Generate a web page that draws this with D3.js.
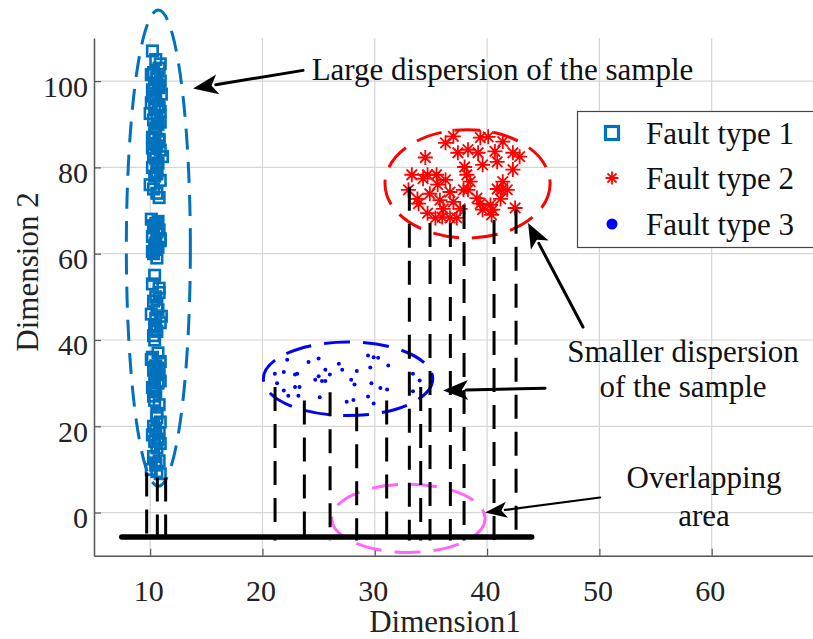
<!DOCTYPE html>
<html><head><meta charset="utf-8">
<script src="https://cdn.jsdelivr.net/npm/d3@7"></script>
<style>body{margin:0;background:#fff}svg{display:block}</style>
</head><body><svg id="c" width="813" height="639"></svg>
<script>
const xTicks = [10,20,30,40,50,60];
const yTicks = [0,20,40,60,80,100];
const xLabel = "Dimension1";
const yLabel = "Dimension 2";
const seriesNames = ["Fault type 1","Fault type 2","Fault type 3"];

const fault1X = [10.2,10.5,10.8,10.3,10.6,10.9,10.4,10.7,10.2,11.0,10.5,10.1,10.8,10.4,10.9,10.6,10.3,10.7,10.5,10.2,10.8,10.4,10.6,10.9,10.3,10.5,10.7,10.2,10.6,10.4,10.9,10.3,10.6,10.8,10.1,10.5,10.3,10.8,10.6,10.2,10.9,10.4,10.7,10.5,10.3,10.6,10.4,10.2,10.8,10.5,10.3,10.7,10.1,10.5,10.9,10.4,10.6,10.3,10.4,10.7,10.2,10.9,10.5,10.3,10.8,10.6,10.4,10.7,10.2,10.5,10.3,10.4,10.8,10.6,10.9,10.3,10.5,10.2,10.7,10.4,10.9,10.6,10.3,10.8,10.5,10.1,10.6,10.9,
  10.9,10.1,10.6,10.8,10.3,10.7,10.0,10.9,10.4,10.8,10.2,11.1,10.6,10.0,10.7,10.3,10.9,10.5,10.2,10.8,10.6,11.0,10.4,10.1,10.7,10.9,10.3,10.6,10.8,10.5];
const fault1Y = [107,105,103,102,101,100,99.5,99,98,97,96,95,94,93.5,93,92,91,90,89,87,86,85.5,85,84,83,82,81,80,79,78,77,75,74,73,68,67,66,65.5,65,64,63,62,61.5,61,60,59,55,53,51,50,49,47,46,45,44,43,42,41,40,37,36,35,34,33,32.5,32,31,30,29,28,27,26,25,22,21,20,19,18,17,16.5,16,15,13,12,11,10,9.5,9,
  104,101.5,100.5,98.5,96.5,94.5,92.5,90.5,88,86.5,84.5,82.5,78.5,76,67.5,66.5,63.5,62.5,60.5,52,48,45.5,43.5,35.5,33.5,30.5,28.5,23,18.5,11.5];

const fault2X = [37.0,36.3,37.4,38.3,39.2,39.4,40.1,41.4,40.7,42.3,42.9,34.5,39.6,40.9,42.3,33.3,34.3,35.5,36.3,38.2,38.5,37.9,36.7,35.6,34.9,33.0,33.8,33.9,37.0,36.1,37.6,39.4,40.3,40.9,41.4,41.8,41.2,40.5,39.6,34.7,35.4,36.0,36.7,37.3,40.4,42.5,35.8,34.7,38.0,38.3,39.1,41.3];
const fault2Y = [87.2,85.7,83.4,84.1,83.4,86.9,87.1,86.0,83.7,83.4,82.5,82.3,80.6,81.3,79.5,78.3,77.4,78.3,77.1,78.3,76.7,74.8,74.3,76.0,73.9,74.8,72.7,71.6,72.0,70.4,70.4,71.6,71.3,75.0,76.7,74.8,72.7,70.2,70.2,69.4,68.3,68.5,68.3,68.3,69.0,70.6,72.4,78.3,80.1,74.8,72.9,74.8];

const fault3X = [22.2,24.1,25.0,26.8,27.1,25.6,25.0,26.0,25.3,25.6,24.7,23.1,22.9,21.9,21.1,21.3,22.9,23.3,21.9,22.3,23.2,25.1,27.5,28.1,28.4,27.9,28.2,29.4,29.9,30.3,29.6,31.2,29.7,30.5,31.1,29.4,29.9,33.4,34.0,33.4];
const fault3Y = [35.4,34.9,35.7,34.5,33.1,33.1,31.6,32.0,30.5,30.5,30.8,32.2,32.0,32.6,32.2,30.0,29.1,29.1,28.3,27.1,27.1,26.7,25.7,26.1,32.8,30.8,29.7,36.4,36.0,35.9,33.6,34.1,30.0,28.9,28.5,26.9,25.3,32.2,30.6,28.1];

// projection lines: x, top y
const projX = [9.69,10.64,11.38,21.12,23.73,26.02,28.39,31.06,34.09,33.08,34.92,36.73,37.95,40.62,42.58];
const projTop = [9.3,8.1,8.1,29.1,26.0,27.9,24.4,26.0,29.1,75.5,67.1,67.1,71.3,67.8,70.2];
const projBottom = -6.5;
const baseLine = {x0:7.47, x1:43.97, y:-5.65};

// ellipses: cx, cy, rx, ry (data units)
const ellipseCx = [10.73,38.26,27.62,32.99];
const ellipseCy = [61.3,76.2,31.0,-1.35];
const ellipseRx = [2.85,7.35,7.54,6.83];
const ellipseRy = [55.2,12.56,8.53,7.9];
const ellipseColors = ["#0072BD","#FF0000","#0000FF","#FF66FF"];

// arrows: from (x0,y0) to tip (x1,y1)
const arrowX0 = [23.61,48.54,45.16,50.06];
const arrowY0 = [102.5,43.0,28.8,3.49];
const arrowX1 = [13.82,43.65,36.08,39.82];
const arrowY1 = [98.3,67.1,28.3,0.0];

const noteText = ["Large dispersion of the sample","Smaller dispersion","of the sample","Overlapping","area"];
const noteX = [24.38,57.45,57.45,59.32,59.32];
const noteY = [100.2,34.8,26.7,5.74,-3.1];
const noteAnchor = ["start","middle","middle","middle","middle"];

const svg = d3.select("#c");
const L=94, R=824, T=38, B=555.7;
const x = d3.scaleLinear().domain([5,70]).range([L,R]);
const y = d3.scaleLinear().domain([-10,110]).range([B,T]);
const font = "'Liberation Serif','Times New Roman',serif";

// grid
const g = svg.append("g");
g.selectAll(".gx").data(xTicks).join("line").attr("x1",d=>x(d)).attr("x2",d=>x(d)).attr("y1",T).attr("y2",B).attr("stroke","#d6d6d6").attr("stroke-width",1.2);
g.selectAll(".gy").data(yTicks).join("line").attr("y1",d=>y(d)).attr("y2",d=>y(d)).attr("x1",L).attr("x2",R).attr("stroke","#d6d6d6").attr("stroke-width",1.2);

// axes
const xAxis = d3.axisBottom(x).tickValues(xTicks).tickSizeInner(-7).tickSizeOuter(0).tickPadding(24);
const yAxis = d3.axisLeft(y).tickValues(yTicks).tickSizeInner(-7).tickSizeOuter(0).tickPadding(6);
const gx = svg.append("g").attr("transform",`translate(0,${B})`).call(xAxis);
const gy = svg.append("g").attr("transform",`translate(${L},0)`).call(yAxis);
[gx,gy].forEach(a=>{
  a.select(".domain").attr("stroke","#555").attr("stroke-width",1.5);
  a.selectAll(".tick line").attr("stroke","#555").attr("stroke-width",1.2);
  a.selectAll("text").attr("font-family",font).attr("font-size",30).attr("fill","#222");
});
gx.selectAll("text").attr("dy","0.72em").attr("dx",-2);
gy.selectAll("text").attr("dy","0.5em");

svg.append("text").attr("x",445).attr("y",632).attr("text-anchor","middle").attr("font-family",font).attr("font-size",31).attr("fill","#222").text(xLabel);
svg.append("text").attr("transform","translate(38,272) rotate(-90)").attr("text-anchor","middle").attr("font-family",font).attr("font-size",31).attr("fill","#222").text(yLabel);

// ellipses
const ell = d3.range(4);
svg.selectAll(".ell").data(ell).join("ellipse")
  .attr("cx",i=>x(ellipseCx[i])).attr("cy",i=>y(ellipseCy[i]))
  .attr("rx",i=>x(ellipseCx[i]+ellipseRx[i])-x(ellipseCx[i]))
  .attr("ry",i=>y(ellipseCy[i])-y(ellipseCy[i]+ellipseRy[i]))
  .attr("fill","none").attr("stroke",i=>ellipseColors[i]).attr("stroke-width",3)
  .attr("stroke-dasharray",i=>i===0?"21,12":"26,13");

// fault type 1 squares
const sq = 10.5;
svg.selectAll(".f1").data(fault1X.map((d,i)=>[d,fault1Y[i]])).join("rect")
  .attr("x",d=>x(d[0])-sq/2).attr("y",d=>y(d[1])-sq/2).attr("width",sq).attr("height",sq)
  .attr("fill","none").attr("stroke","#0072BD").attr("stroke-width",2.6);

// fault type 2 asterisks
const star = r => `M${-r},0L${r},0M0,${-r}L0,${r}M${-r*0.7},${-r*0.7}L${r*0.7},${r*0.7}M${-r*0.7},${r*0.7}L${r*0.7},${-r*0.7}`;
svg.selectAll(".f2").data(fault2X.map((d,i)=>[d,fault2Y[i]])).join("path")
  .attr("transform",d=>`translate(${x(d[0])},${y(d[1])})`).attr("d",star(7.5))
  .attr("fill","none").attr("stroke","#FF0000").attr("stroke-width",1.8);

// fault type 3 dots
svg.selectAll(".f3").data(fault3X.map((d,i)=>[d,fault3Y[i]])).join("circle")
  .attr("cx",d=>x(d[0])).attr("cy",d=>y(d[1])).attr("r",2).attr("fill","#0000FF");

// projection dashed lines
svg.selectAll(".pj").data(projX.map((d,i)=>[d,projTop[i]])).join("line")
  .attr("x1",d=>x(d[0])).attr("x2",d=>x(d[0])).attr("y1",d=>y(d[1])).attr("y2",y(projBottom))
  .attr("stroke","#000").attr("stroke-width",3).attr("stroke-dasharray","24,13");

svg.append("line").attr("x1",x(baseLine.x0)).attr("x2",x(baseLine.x1)).attr("y1",y(baseLine.y)).attr("y2",y(baseLine.y))
  .attr("stroke","#000").attr("stroke-width",5.5).attr("stroke-linecap","round");

// arrows
d3.range(4).forEach(i=>{
  const x0=x(arrowX0[i]), y0=y(arrowY0[i]), x1=x(arrowX1[i]), y1=y(arrowY1[i]);
  const ang=Math.atan2(y1-y0,x1-x0);
  const hl = i===3?22:25, hw = i===3?8:10;
  const bx=x1-hl*Math.cos(ang), by=y1-hl*Math.sin(ang);
  svg.append("line").attr("x1",x0).attr("y1",y0).attr("x2",bx+2*Math.cos(ang)).attr("y2",by+2*Math.sin(ang))
    .attr("stroke","#000").attr("stroke-width",i===3?2.2:3).attr("stroke-linecap","round");
  const px=-Math.sin(ang), py=Math.cos(ang);
  svg.append("path").attr("d",`M${x1},${y1}L${bx+hw*px},${by+hw*py}L${bx+0.25*hl*Math.cos(ang)},${by+0.25*hl*Math.sin(ang)}L${bx-hw*px},${by-hw*py}Z`).attr("fill","#000");
});

// notes
svg.selectAll(".note").data(noteText).join("text")
  .attr("x",(d,i)=>x(noteX[i])).attr("y",(d,i)=>y(noteY[i])).attr("text-anchor",(d,i)=>noteAnchor[i])
  .attr("font-family",font).attr("font-size",31).attr("fill","#111").text(d=>d);

// legend
const lg = svg.append("g");
lg.append("rect").attr("x",577.5).attr("y",111.5).attr("width",250).attr("height",136).attr("fill","#fff").attr("stroke","#444").attr("stroke-width",1.2);
const ly=[133,178,224];
lg.append("rect").attr("x",612-6.5).attr("y",ly[0]-6.5).attr("width",13).attr("height",13).attr("fill","none").attr("stroke","#0072BD").attr("stroke-width",3.2);
lg.append("path").attr("transform",`translate(612,${ly[1]})`).attr("d",star(6.5)).attr("stroke","#FF0000").attr("stroke-width",1.8).attr("fill","none");
lg.append("circle").attr("cx",612).attr("cy",ly[2]).attr("r",5.5).attr("fill","#0000FF");
lg.selectAll(".lt").data(seriesNames).join("text").attr("x",646).attr("y",(d,i)=>ly[i]+10.5)
  .attr("font-family",font).attr("font-size",31).attr("fill","#111").text(d=>d);
</script></body></html>
